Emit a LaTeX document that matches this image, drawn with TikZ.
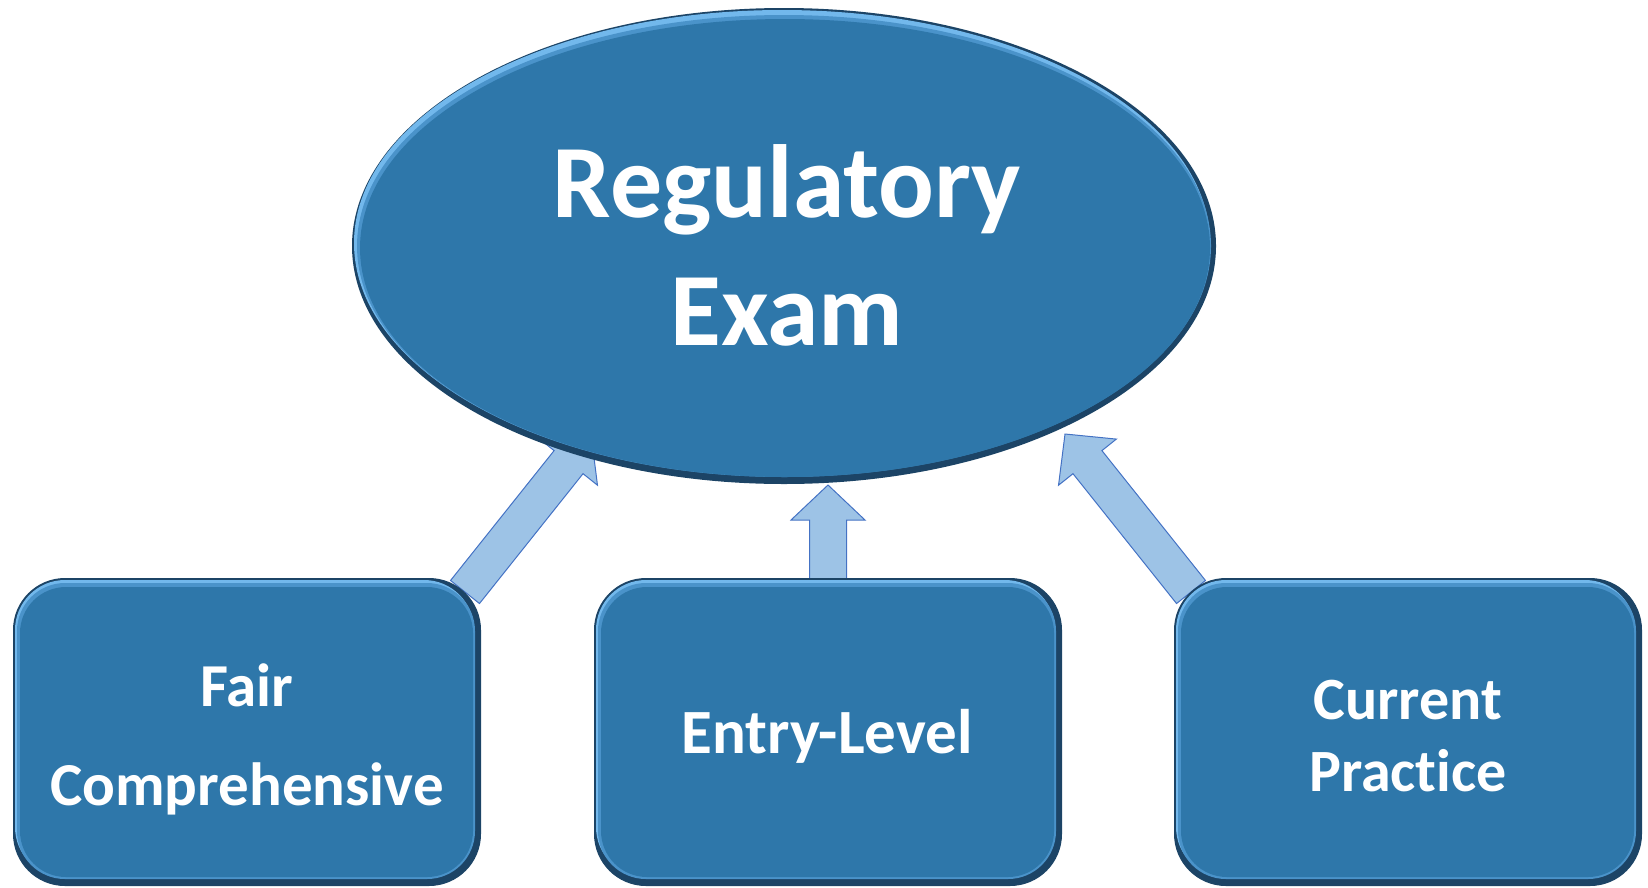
\documentclass[tikz,border=0pt]{standalone}
\usepackage{fontspec}
\setmainfont{Carlito}[Ligatures=NoCommon]
\usetikzlibrary{calc}
\definecolor{mainblue}{HTML}{2E77AA}
\definecolor{edgedark}{HTML}{1C4466}
\definecolor{edgelight}{HTML}{72B8EC}
\definecolor{edgemid}{HTML}{4A93CA}
\definecolor{arrowfill}{HTML}{9DC3E6}
\definecolor{arrowline}{HTML}{4472C4}
\tikzset{
  blockarrow/.style={fill=arrowfill, draw=arrowline, line width=1pt, line join=miter},
  bigtext/.style={text=white, font={\fontsize{104}{128}\selectfont\bfseries}, align=center, inner sep=0pt},
  fairtext/.style={text=white, font={\fontsize{61}{99}\selectfont\bfseries}, align=center, inner sep=0pt},
  entrytext/.style={text=white, font={\fontsize{63}{76}\selectfont\bfseries}, align=center, inner sep=0pt},
  currtext/.style={text=white, font={\fontsize{60}{72}\selectfont\bfseries}, align=center, inner sep=0pt},
}
% bevelled rounded box: x0 y0 x1 y1
\newcommand\bevelbox[4]{%
  \fill[edgedark, rounded corners=52pt] (#1,#2) rectangle (#3,#4);
  \fill[edgelight, rounded corners=50pt] (#1+2,#2+2) rectangle (#3-7,#4-9);
  \fill[edgemid, rounded corners=48pt] (#1+4,#2+5) rectangle (#3-6,#4-7);
  \fill[mainblue, rounded corners=46pt] (#1+7,#2+9) rectangle (#3-8,#4-9);
}
% block arrow: tail, tip, head length
\newcommand\blockarr[3]{%
  \coordinate (bm) at ($(#2)!#3!(#1)$);
  \draw[blockarrow]
    ($(#1)!18.5pt!90:(#2)$) -- ($(bm)!18.5pt!-90:(#1)$) -- ($(bm)!37pt!-90:(#1)$)
    -- (#2) -- ($(bm)!37pt!90:(#1)$) -- ($(bm)!18.5pt!90:(#1)$)
    -- ($(#1)!18.5pt!-90:(#2)$) -- cycle;
}
\begin{document}
\begin{tikzpicture}[x=1pt,y=-1pt]
\useasboundingbox (0,0) rectangle (1648,887);
% connector end points
\coordinate (fairtail) at (465,592);
\coordinate (fairtip) at (591,434);
\coordinate (entrytail) at (828,590);
\coordinate (entrytip) at (828,485);
\coordinate (currtail) at (1191,592);
\coordinate (currtip) at (1065,434);
% arrows (behind shapes)
\blockarr{fairtail}{fairtip}{36pt}
\blockarr{entrytail}{entrytip}{35pt}
\blockarr{currtail}{currtip}{36pt}
% ellipse
\fill[edgedark] (784,246) ellipse [x radius=432, y radius=238];
\fill[edgelight] (782,243) ellipse [x radius=428, y radius=233];
\fill[edgemid] (784,246) ellipse [x radius=427, y radius=231];
\fill[mainblue] (785,248) ellipse [x radius=425, y radius=229];
\node[bigtext, anchor=base] (exam) at (787,345) {Regulatory\\Exam};
% boxes
\bevelbox{13}{578}{481}{886}
\bevelbox{594}{578}{1062}{886}
\bevelbox{1174}{578}{1642}{886}
\node[fairtext, anchor=base] (fair) at (247,805) {Fair\\Comprehensive};
\node[entrytext, anchor=base] (entry) at (827,753) {Entry-Level};
\node[currtext, anchor=base] (current) at (1408,791) {Current\\Practice};
\end{tikzpicture}
\end{document}
